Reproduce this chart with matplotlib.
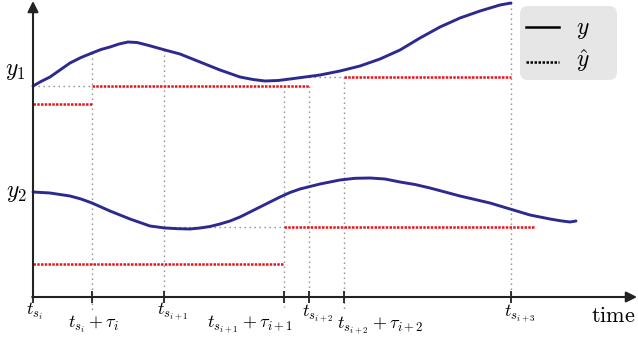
import matplotlib.pyplot as plt
from matplotlib.patches import FancyBboxPatch

plt.rcParams['mathtext.fontset'] = 'cm'

# time axis (origin at t_si), values measured from the time axis
t_y1 = [0, 8, 17, 27, 37, 48, 59, 68, 77, 86, 95, 104, 114, 123, 132, 147, 167,
        187, 207, 220, 232, 245, 257, 272, 287, 307, 327, 347, 367, 387, 407,
        427, 447, 467, 478]
y1 = [211, 215.5, 220, 227, 234, 239.5, 244, 247.5, 250, 253, 255, 254.5, 252,
      249.5, 247, 243, 235, 227, 220, 217.5, 216, 216.5, 218, 220, 222, 226,
      231, 238, 247, 259, 270, 279, 286, 292, 294]

t_y2 = [0, 17, 37, 48, 59, 68, 77, 87, 97, 107, 117, 132, 145, 157, 167, 177,
        187, 197, 207, 217, 227, 237, 247, 257, 267, 287, 307, 322, 337, 352,
        367, 382, 397, 412, 427, 442, 457, 477, 497, 517, 527, 537, 543]
y2 = [105, 104, 101, 98, 94, 90, 86, 82, 78, 74.5, 71, 69, 68.3, 68, 69, 70.5,
      73, 76, 80, 85, 90, 95, 100, 104.5, 108, 113, 117, 118.7, 119, 118,
      115, 112.5, 109, 105, 101, 97.5, 94, 88, 82, 78, 76.3, 75, 76]

# held estimates: (start, end, value)
yhat1 = [(0, 59, 193), (59, 276, 211), (311, 478, 220)]
yhat2 = [(0, 251, 33), (251, 502, 70)]

t_ticks = [0, 59, 131, 251, 276, 311, 478]
tick_labels = [r'$t_{s_i}$', r'$t_{s_i}+\tau_i$', r'$t_{s_{i+1}}$',
               r'$t_{s_{i+1}}+\tau_{i+1}$', r'$t_{s_{i+2}}$',
               r'$t_{s_{i+2}}+\tau_{i+2}$', r'$t_{s_{i+3}}$']

# label layout
label_x = [1.5, 61, 140, 217, 285, 347, 487]
label_v = [-14, -27, -14, -27, -16, -28, -16]

navy = '#2b2b8f'
red = '#e8141c'
grey = '#8a8a8a'
axc = '#222222'
dotted = (0, (1, 0.5))

fig = plt.figure(figsize=(6.38, 3.38), dpi=100)
ax = fig.add_axes([0, 0, 1, 1])
ax.set_xlim(-33, 605)
ax.set_ylim(-41, 297)
ax.axis('off')

# guide lines
gdash = (0, (1, 2.6))
ax.vlines([59, 131, 251, 276, 311, 478], [244, 247, 211, 211, 220, 294],
          [-14, 0, -10, 0, -14, 0], colors=grey, lw=1, linestyles=[gdash])
ax.hlines([211, 220, 70], [0, 276, 131], [59, 311, 251],
          colors=grey, lw=1, linestyles=[gdash])

# curves
ax.plot(t_y1, y1, color=navy, lw=2.1, solid_capstyle='round', solid_joinstyle='round')
ax.plot(t_y2, y2, color=navy, lw=2.1, solid_capstyle='round', solid_joinstyle='round')

# held values
for seg in (yhat1, yhat2):
    for a, b, v in seg:
        ax.plot([a, b], [v, v], color=red, lw=1.8, ls=dotted)

# axes with arrows
ax.annotate('', xy=(604, 0), xytext=(-0.8, 0),
            arrowprops=dict(arrowstyle='-|>', color=axc, lw=1.5, mutation_scale=16,
                            shrinkA=0, shrinkB=0))
ax.annotate('', xy=(0, 296), xytext=(0, -0.8),
            arrowprops=dict(arrowstyle='-|>', color=axc, lw=1.5, mutation_scale=16,
                            shrinkA=0, shrinkB=0))
ax.plot(t_ticks, [0] * len(t_ticks), ls='none', marker='|', ms=8, mew=1.3, color=axc)

for x, v, s in zip(label_x, label_v, tick_labels):
    ax.text(x, v, s, ha='center', va='center', fontsize=13)
ax.text(580, -19, r'$\mathrm{time}$', ha='center', va='center', fontsize=16)

ax.text(-18, 227, r'$y_1$', ha='center', va='center', fontsize=17)
ax.text(-16, 105, r'$y_2$', ha='center', va='center', fontsize=17)

# legend drawn by hand
ax.add_patch(FancyBboxPatch((487, 217), 97, 74, boxstyle='round,pad=0,rounding_size=8',
                            facecolor='#e6e6e6', edgecolor='none', zorder=3))
ax.plot([493, 526], [270, 270], color='black', lw=1.8, zorder=4)
ax.plot([493, 526], [235, 235], color='black', lw=1.8, ls=(0, (1, 0.6)), zorder=4)
ax.text(550, 268, r'$y$', ha='center', va='center', fontsize=17, zorder=4)
ax.text(550, 236, r'$\hat{y}$', ha='center', va='center', fontsize=17, zorder=4)

fig.savefig('out.png', dpi=100)
